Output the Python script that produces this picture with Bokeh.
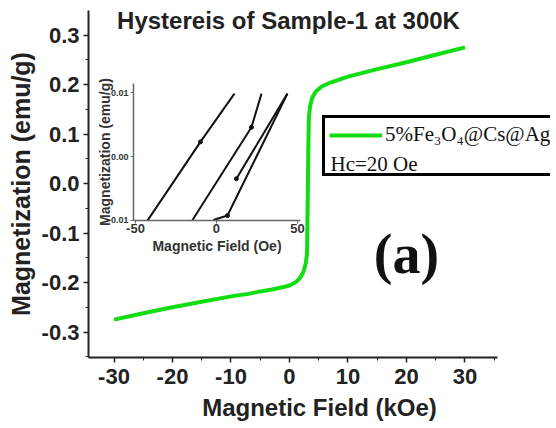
from bokeh.plotting import figure
from bokeh.embed import file_html
from bokeh.resources import INLINE
from bokeh.models import (Range1d, LinearAxis, FixedTicker, NumeralTickFormatter,
                          Legend, LegendItem, Label)

# ---- main hysteresis curve (kOe, emu/g) ----
field_koe = [-30, -25, -20, -15, -10, -7, -5, -3, -1, 0, 1, 1.8, 2.4, 2.8, 3.0,
             3.1, 3.2, 3.3, 3.5, 3.9, 4.5, 5.5, 7, 10, 15, 20, 25, 30]
magnetization = [-0.275, -0.262, -0.250, -0.239, -0.228, -0.223, -0.218, -0.214,
                 -0.209, -0.206, -0.200, -0.191, -0.178, -0.160, -0.140,
                 -0.05, 0.05, 0.130, 0.155, 0.174, 0.186, 0.196, 0.204, 0.216,
                 0.231, 0.245, 0.260, 0.275]

# ---- inset: low-field loop (Oe, emu/g) ----
loop_a_h = [-42.6, -9.9, 11.1]
loop_a_m = [-0.0101, 0.0023, 0.0099]
loop_b_h = [-14.8, 21.6, 27.8]
loop_b_m = [-0.0100, 0.0046, 0.0099]
loop_c_h = [-1.9, 6.8, 43.8]
loop_c_m = [-0.0100, -0.0093, 0.0099]
loop_d_h = [12.3, 43.8]
loop_d_m = [-0.0035, 0.0099]
marker_h = [-9.9, 21.6, 6.8, 12.3]
marker_m = [0.0023, 0.0046, -0.0093, -0.0035]

main_x_ticks = [-30, -20, -10, 0, 10, 20, 30]
main_x_minor = [-35, -25, -15, -5, 5, 15, 25, 35]
main_y_ticks = [-0.3, -0.2, -0.1, 0.0, 0.1, 0.2, 0.3]
main_y_minor = [-0.35, -0.25, -0.15, -0.05, 0.05, 0.15, 0.25, 0.35]
inset_x_ticks = [-50, 0, 50]
inset_y_ticks = [-0.01, 0.0, 0.01]

title_text = "Hystereis of Sample-1 at 300K"
legend_text = "5%Fe\u2083O\u2084@Cs@Ag"
hc_text = "Hc=20 Oe"
panel_text = "(a)"

SANS = "Liberation Sans"
SERIF = "Liberation Serif"

p = figure(frame_width=462, frame_height=347,
           x_range=Range1d(-34.36, 44.62), y_range=Range1d(-0.3515, 0.3495),
           output_backend="svg", toolbar_location=None,
           min_border_left=88, min_border_right=4, min_border_top=10,
           min_border_bottom=68)
p.outline_line_color = None
p.grid.visible = False
p.background_fill_color = "white"

xa = p.xaxis[0]
ya = p.yaxis[0]
xa.ticker = FixedTicker(ticks=main_x_ticks, minor_ticks=main_x_minor)
ya.ticker = FixedTicker(ticks=main_y_ticks, minor_ticks=main_y_minor)
xa.formatter = NumeralTickFormatter(format="0")
ya.formatter = NumeralTickFormatter(format="0.0")
xa.bounds = (-34.36, 35.56)
for ax in (xa, ya):
    ax.axis_line_width = 2
    ax.axis_line_color = "#222222"
    ax.major_tick_line_color = "#222222"
    ax.minor_tick_line_color = "#222222"
    ax.major_tick_line_width = 1.5
    ax.major_tick_out = 5
    ax.major_tick_in = 0
    ax.minor_tick_out = 3
    ax.minor_tick_in = 0
    ax.major_label_text_font = SANS
    ax.major_label_text_font_style = "bold"
    ax.major_label_text_font_size = "22px"
    ax.major_label_text_color = "#222222"
    ax.axis_label_text_font = SANS
    ax.axis_label_text_font_style = "bold"
    ax.axis_label_text_color = "#222222"
xa.axis_label = "Magnetic Field (kOe)"
ya.axis_label = "Magnetization (emu/g)"
xa.axis_label_text_font_size = "24px"
ya.axis_label_text_font_size = "25px"
xa.major_label_standoff = 6
xa.axis_label_standoff = 7
ya.major_label_standoff = 4
ya.axis_label_standoff = 4

main = p.line(field_koe, magnetization, line_color="#12dd12", line_width=4)

# ---- inset via extra ranges ----
p.extra_x_ranges = {"ix": Range1d(-79.0, 206.2)}
p.extra_y_ranges = {"iy": Range1d(-0.03165, 0.02299)}

ixa = LinearAxis(x_range_name="ix", y_range_name="iy", fixed_location=-0.0100,
                 bounds=(-51.2, 52), ticker=FixedTicker(ticks=inset_x_ticks, minor_ticks=[]),
                 formatter=NumeralTickFormatter(format="0"),
                 axis_label="Magnetic Field (Oe)")
iya = LinearAxis(x_range_name="ix", y_range_name="iy", fixed_location=-51.2,
                 bounds=(-0.0100, 0.0115), ticker=FixedTicker(ticks=inset_y_ticks, minor_ticks=[]),
                 formatter=NumeralTickFormatter(format="0.00"),
                 axis_label="Magnetization (emu/g)")
for ax in (ixa, iya):
    ax.axis_line_width = 1.5
    ax.axis_line_color = "#666666"
    ax.major_tick_line_color = "#666666"
    ax.major_tick_out = 3
    ax.major_tick_in = 0
    ax.major_label_text_font = SANS
    ax.major_label_text_font_style = "bold"
    ax.major_label_text_color = "#333333"
    ax.axis_label_text_font = SANS
    ax.axis_label_text_font_style = "bold"
    ax.axis_label_text_color = "#333333"
    ax.axis_label_text_font_size = "14px"
ixa.major_label_text_font_size = "13px"
iya.major_label_text_font_size = "9px"
ixa.major_label_standoff = 1
ixa.axis_label_standoff = 1
iya.major_label_standoff = 2
iya.axis_label_standoff = -8
p.add_layout(ixa, "below")
p.add_layout(iya, "left")

for hh, mm in ((loop_a_h, loop_a_m), (loop_b_h, loop_b_m),
               (loop_c_h, loop_c_m), (loop_d_h, loop_d_m)):
    p.line(hh, mm, x_range_name="ix", y_range_name="iy",
           line_color="#111111", line_width=2)
p.scatter(marker_h, marker_m, x_range_name="ix", y_range_name="iy",
          size=4, color="#111111")

# ---- legend ----
dummy = p.line([], [], line_alpha=0)
legend = Legend(items=[LegendItem(label=legend_text, renderers=[main]),
                       LegendItem(label=" ", renderers=[dummy])],
                location=(234, 181), padding=4, spacing=0, margin=0,
                glyph_width=53, glyph_height=22, label_height=22, label_standoff=3,
                label_text_font=SERIF, label_text_font_size="21px",
                label_text_color="#111111",
                border_line_color="black", border_line_width=3, border_line_alpha=1,
                background_fill_alpha=0)
p.add_layout(legend, "center")

p.add_layout(Label(x=242, y=194, x_units="screen", y_units="screen", text=hc_text,
                   text_font=SERIF, text_font_size="21px", text_color="#111111",
                   text_baseline="middle", text_align="left", level="overlay"))
p.add_layout(Label(x=200, y=337, x_units="screen", y_units="screen", text=title_text,
                   text_font=SANS, text_font_style="bold", text_font_size="24px",
                   text_color="#222222", text_baseline="middle", text_align="center"))
p.add_layout(Label(x=318, y=104, x_units="screen", y_units="screen", text=panel_text,
                   text_font=SERIF, text_font_style="bold", text_font_size="56px",
                   text_color="#111111", text_baseline="middle", text_align="center"))

open("out.html", "w").write(file_html(p, INLINE))
